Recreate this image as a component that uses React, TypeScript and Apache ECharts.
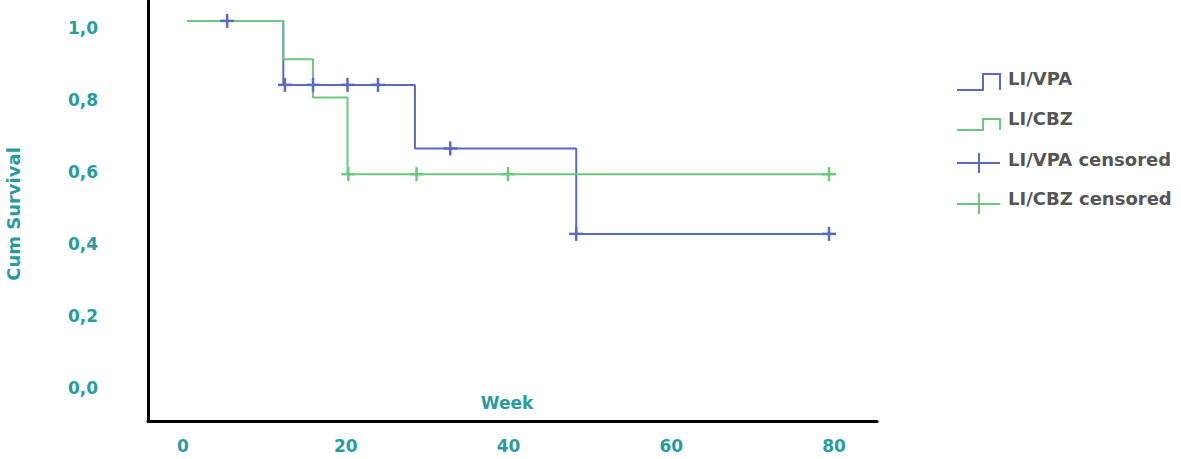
import React, { useEffect, useRef } from "react";
import * as echarts from "echarts";

// Kaplan-Meier step data (week, cumulative survival after the step)
const vpaWeeks = [0, 12, 28.4, 48.5, 80];
const vpaSurv = [1.0, 0.833, 0.667, 0.444, 0.444];
const cbzWeeks = [0, 12, 15.7, 20, 80];
const cbzSurv = [1.0, 0.9, 0.8, 0.6, 0.6];

// censored observations
const vpaCensWeeks = [5, 12.2, 15.7, 20, 23.8, 32.8, 48.5, 80];
const vpaCensSurv = [1.0, 0.833, 0.833, 0.833, 0.833, 0.667, 0.444, 0.444];
const cbzCensWeeks = [20.1, 28.6, 40, 80];
const cbzCensSurv = [0.6, 0.6, 0.6, 0.6];

const xTicks = [0, 20, 40, 60, 80];
const yTicks = [0, 0.2, 0.4, 0.6, 0.8, 1.0];

const legendNames = ["LI/VPA", "LI/CBZ", "LI/VPA censored", "LI/CBZ censored"];

const BLUE = "#5a6abf";
const GREEN = "#6cc87f";
const TEAL = "#2a9a9f";
const FONT = "'DejaVu Sans', 'Open Sans', sans-serif";

const zip = (xs: number[], ys: number[]) => xs.map((x, i) => [x, ys[i]]);

const crossSeries = (name: string, data: number[][], color: string) => ({
  name,
  type: "custom",
  xAxisIndex: 1,
  yAxisIndex: 1,
  data,
  z: 5,
  renderItem: (params: any, api: any) => {
    const p = api.coord([api.value(0), api.value(1)]);
    const h = 7;
    return {
      type: "group",
      children: [
        { type: "line", shape: { x1: p[0] - h, y1: p[1], x2: p[0] + h, y2: p[1] }, style: { stroke: color, lineWidth: 2.5 } },
        { type: "line", shape: { x1: p[0], y1: p[1] - h, x2: p[0], y2: p[1] + h }, style: { stroke: color, lineWidth: 2.5 } },
      ],
    };
  },
});

export default function App() {
  const ref = useRef<HTMLDivElement>(null);
  useEffect(() => {
    if (!ref.current) return;
    const chart = echarts.init(ref.current, undefined, { renderer: "svg" });
    const legendText = (y: number, text: string) => ({
      type: "text",
      x: 1008,
      y,
      style: { text, fill: "#555", font: `bold 18px ${FONT}`, textVerticalAlign: "middle" },
    });
    chart.setOption({
      animation: false,
      backgroundColor: "#fff",
      grid: { left: 148, top: 1, right: 304, bottom: 38 },
      xAxis: [
        {
          type: "value",
          min: -4.3,
          max: 85.28,
          axisLine: { show: true, onZero: false, lineStyle: { color: "#000", width: 3 } },
          axisTick: { show: false },
          splitLine: { show: false },
          axisLabel: {
            customValues: xTicks,
            color: TEAL,
            fontSize: 17,
            fontWeight: "bold",
            fontFamily: FONT,
            margin: 16,
          },
        },
        { type: "value", min: -4.86, max: 85.98, show: false, splitLine: { show: false } },
      ],
      yAxis: [
        {
          type: "value",
          min: -0.092,
          max: 1.075,
          axisLine: { show: true, onZero: false, lineStyle: { color: "#000", width: 3 } },
          axisTick: { show: false },
          splitLine: { show: false },
          axisLabel: {
            customValues: yTicks,
            color: TEAL,
            fontSize: 17,
            fontWeight: "bold",
            fontFamily: FONT,
            margin: 50,
            formatter: (v: number) => v.toFixed(1).replace(".", ","),
          },
        },
        { type: "value", min: -0.0445, max: 1.052, show: false, splitLine: { show: false } },
      ],
      series: [
        {
          name: legendNames[0],
          type: "line",
          step: "end",
          xAxisIndex: 1,
          yAxisIndex: 1,
          data: zip(vpaWeeks, vpaSurv),
          symbol: "none",
          lineStyle: { color: BLUE, width: 2 },
          z: 2,
        },
        {
          name: legendNames[1],
          type: "line",
          step: "end",
          xAxisIndex: 1,
          yAxisIndex: 1,
          data: zip(cbzWeeks, cbzSurv),
          symbol: "none",
          lineStyle: { color: GREEN, width: 2 },
          z: 3,
        },
        crossSeries(legendNames[2], zip(vpaCensWeeks, vpaCensSurv), BLUE),
        crossSeries(legendNames[3], zip(cbzCensWeeks, cbzCensSurv), GREEN),
      ],
      graphic: [
        {
          type: "text",
          x: 13,
          y: 214,
          rotation: Math.PI / 2,
          style: { text: "Cum Survival", fill: TEAL, font: `bold 18px ${FONT}`, textAlign: "center", textVerticalAlign: "middle" },
        },
        {
          type: "text",
          x: 507,
          y: 403,
          style: { text: "Week", fill: TEAL, font: `bold 17px ${FONT}`, textAlign: "center", textVerticalAlign: "middle" },
        },
        { type: "polyline", shape: { points: [[957, 90], [983, 90], [983, 74], [1000, 74], [1000, 90]] }, style: { stroke: BLUE, lineWidth: 2, fill: "none" } },
        { type: "polyline", shape: { points: [[957, 130], [983, 130], [983, 119], [1000, 119], [1000, 130]] }, style: { stroke: GREEN, lineWidth: 2, fill: "none" } },
        { type: "line", shape: { x1: 957, y1: 163, x2: 1000, y2: 163 }, style: { stroke: BLUE, lineWidth: 2 } },
        { type: "line", shape: { x1: 979, y1: 153, x2: 979, y2: 173 }, style: { stroke: BLUE, lineWidth: 2 } },
        { type: "line", shape: { x1: 957, y1: 204, x2: 1000, y2: 204 }, style: { stroke: GREEN, lineWidth: 2 } },
        { type: "line", shape: { x1: 979, y1: 193, x2: 979, y2: 214 }, style: { stroke: GREEN, lineWidth: 2 } },
        legendText(78, legendNames[0]),
        legendText(118, legendNames[1]),
        legendText(159, legendNames[2]),
        legendText(198, legendNames[3]),
      ],
    });
    return () => chart.dispose();
  }, []);
  return (
    <div
      ref={ref}
      style={{ position: "fixed", left: 0, top: 0, width: 1181, height: 459 }}
    />
  );
}
